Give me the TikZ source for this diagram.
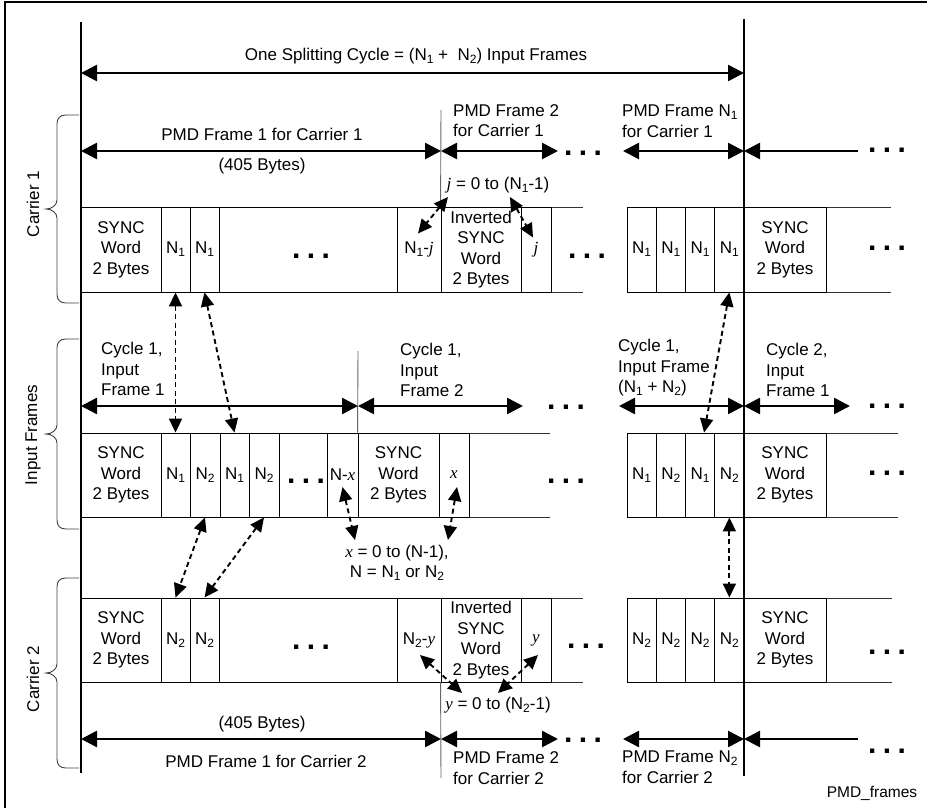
\documentclass[tikz,border=0pt]{standalone}
\usepackage{fontspec}
\setmainfont{Liberation Sans}
\newfontfamily\tmsfont{Liberation Serif}
\usetikzlibrary{arrows.meta,calc}
\newcommand\Nn[1]{N\raisebox{-3pt}{\fontsize{12}{12}\selectfont #1}}
\newcommand\vi[1]{{\tmsfont\itshape #1}}
\newcommand\tdots{.\hspace{6.4pt}.\hspace{6.4pt}.}
\newcommand\mybrace[3]{\draw[bracel] (79,#1) -- (66,#1) .. controls (60,#1) and (57,{#1+3}) .. (57,{#1+9}) -- (57,{#2-9}) .. controls (57,{#2-4}) and (52,#2) .. (46,#2) .. controls (52,#2) and (57,{#2+4}) .. (57,{#2+9}) -- (57,{#3-9}) .. controls (57,{#3-3}) and (60,#3) .. (66,#3) -- (79,#3);}
\begin{document}
\begin{tikzpicture}[x=1pt,y=-1pt,
  font=\fontsize{17}{20.5}\selectfont, inner sep=0pt,
  frcell/.style={draw, line width=0.9pt, inner sep=0pt, minimum width=#1, minimum height=85pt, align=center},
  frcellb/.style={frcell=#1, minimum height=84pt},
  rowline/.style={line width=0.9pt, black!80},
  vline/.style={line width=2.4pt},
  grayline/.style={line width=0.9pt, black!60},
  bigarr/.style={line width=2.6pt, {Triangle[length=16pt,width=16pt]}-{Triangle[length=16pt,width=16pt]}},
  lefttip/.style={line width=2.6pt, {Triangle[length=16pt,width=16pt]}-},
  dsh/.style={line width=1.9pt, dash pattern=on 5pt off 3.5pt, {Triangle[length=14pt,width=13pt]}-{Triangle[length=14pt,width=13pt]}},
  bracel/.style={line width=0.9pt, black!75},
  dotsn/.style={font=\fontsize{30}{30}\selectfont\bfseries, inner sep=0pt},
  ]
\useasboundingbox (0,0) rectangle (927,808);
% outer frame (top and left edges)
\draw[line width=1.2pt] (5,808) -- (5,2) -- (927,2);

% ---------- Carrier 1 row ----------
\draw[rowline] (81,207) -- (583,207) (81,292) -- (583,292) (627,207) -- (891,207) (627,292) -- (891,292);
\node[frcell=80pt] (a0) at (121,249.5) {SYNC\\Word\\2 Bytes};
\node[frcell=29pt] (a1) at (175.5,249.5) {\Nn1};
\node[frcell=29pt] (a2) at (204.5,249.5) {\Nn1};
\node[frcell=178pt] (a3) at (308,249.5) {};
\node[frcell=44pt] (a4) at (419,249.5) {\Nn1-\vi{j}};
\node[frcell=80pt] (a5) at (481,249.5) {Inverted\\SYNC\\Word\\2 Bytes};
\node[frcell=30pt] (a6) at (536,249.5) {\vi{j}};
\node[frcell=29.25pt] (b1) at (641.625,249.5) {\Nn1};
\node[frcell=29.25pt] (b2) at (670.875,249.5) {\Nn1};
\node[frcell=29.25pt] (b3) at (700.125,249.5) {\Nn1};
\node[frcell=29.25pt] (b4) at (729.375,249.5) {\Nn1};
\node[frcell=82pt] (b5) at (785,249.5) {SYNC\\Word\\2 Bytes};

% ---------- Input row ----------
\draw[rowline] (81,433) -- (550,433) (81,517) -- (550,517) (627,433) -- (898,433) (627,517) -- (898,517);
\node[frcellb=80pt] (c0) at (121,475) {SYNC\\Word\\2 Bytes};
\node[frcellb=29pt] (c1) at (175.5,475) {\Nn1};
\node[frcellb=30pt] (c2) at (205,475) {\Nn2};
\node[frcellb=29pt] (c3) at (234.5,475) {\Nn1};
\node[frcellb=30pt] (c4) at (264,475) {\Nn2};
\node[frcellb=48pt] (c5) at (303,475) {};
\node[frcellb=31pt] (c6) at (342.5,475) {N-\vi{x}};
\node[frcellb=81pt] (c7) at (398.5,475) {SYNC\\Word\\2 Bytes};
\node[frcellb=30pt] (c8) at (454,475) {\vi{x}};
\node[frcellb=29.25pt] (d1) at (641.625,475) {\Nn1};
\node[frcellb=29.25pt] (d2) at (670.875,475) {\Nn2};
\node[frcellb=29.25pt] (d3) at (700.125,475) {\Nn1};
\node[frcellb=29.25pt] (d4) at (729.375,475) {\Nn2};
\node[frcellb=82pt] (d5) at (785,475) {SYNC\\Word\\2 Bytes};

% ---------- Carrier 2 row ----------
\draw[rowline] (81,598) -- (583,598) (81,682) -- (583,682) (627,598) -- (892,598) (627,682) -- (892,682);
\node[frcellb=80pt] (e0) at (121,640) {SYNC\\Word\\2 Bytes};
\node[frcellb=29pt] (e1) at (175.5,640) {\Nn2};
\node[frcellb=29pt] (e2) at (204.5,640) {\Nn2};
\node[frcellb=178pt] (e3) at (308,640) {};
\node[frcellb=44pt] (e4) at (419,640) {\Nn2-\vi{y}};
\node[frcellb=80pt] (e5) at (481,640) {Inverted\\SYNC\\Word\\2 Bytes};
\node[frcellb=30pt] (e6) at (536,640) {\vi{y}};
\node[frcellb=29.25pt] (f1) at (641.625,640) {\Nn2};
\node[frcellb=29.25pt] (f2) at (670.875,640) {\Nn2};
\node[frcellb=29.25pt] (f3) at (700.125,640) {\Nn2};
\node[frcellb=29.25pt] (f4) at (729.375,640) {\Nn2};
\node[frcellb=82pt] (f5) at (785,640) {SYNC\\Word\\2 Bytes};

% ---------- thin gray frame separators ----------
\draw[grayline] (441,110) -- (a5.north west);
\draw[grayline] (358,351) -- (c7.north west);
\draw[grayline] (e5.south west) -- (441,778);

% ---------- thick vertical lines ----------
\coordinate (Ltop) at (81,22); \coordinate (Lbot) at (81,773);
\coordinate (Rtop) at (744,19); \coordinate (Rbot) at (744,776);
\draw[vline] (Ltop) -- (Lbot);
\draw[vline] (Rtop) -- (Rbot);

% ---------- braces and side labels ----------
\mybrace{115}{209}{303}
\mybrace{339}{434}{529}
\mybrace{578}{673}{768}
\node[rotate=90] (lc1) at (33,204) {Carrier 1};
\node[rotate=90] (lin) at (33,435) {Input Frames};
\node[rotate=90] (lc2) at (33,679) {Carrier 2};

% ---------- top cycle arrow ----------
\coordinate (t1) at (81,73); \coordinate (t2) at (744,73);
\draw[bigarr] (t1) -- (t2);
\node (ttop) at (416,56) {One Splitting Cycle = (\Nn1 +\ \ \Nn2) Input Frames};

% ---------- carrier 1 frame arrows ----------
\coordinate (p1) at (81,151); \coordinate (p2) at (441,151); \coordinate (p3) at (558,151);
\coordinate (p4) at (623,151); \coordinate (p5) at (744,151); \coordinate (p6) at (858,151);
\draw[bigarr] (p1) -- (p2);
\draw[bigarr] (p2) -- (p3);
\draw[bigarr] (p4) -- (p5);
\draw[lefttip] (p5) -- (p6);
\node (pm1) at (262,134) {PMD Frame 1 for Carrier 1};
\node (by1) at (262,166) {(405 Bytes)};
\node[align=left, anchor=west] (pm2) at (453,120.5) {PMD Frame 2\\for Carrier 1};
\node[align=left, anchor=west] (pmn) at (622,121) {PMD Frame \Nn1\\for Carrier 1};
\node (jl) at (498,185) {\vi{j} = 0 to (\Nn1-1)};

% ---------- input frame arrows ----------
\coordinate (q1) at (81,406); \coordinate (q2) at (358,406); \coordinate (q3) at (523,406);
\coordinate (q4) at (619,406); \coordinate (q5) at (744,406); \coordinate (q6) at (850,406);
\draw[bigarr] (q1) -- (q2);
\draw[bigarr] (q2) -- (q3);
\draw[bigarr] (q4) -- (q5);
\draw[bigarr] (q5) -- (q6);
\node[align=left, anchor=west] (cy1) at (101,369) {Cycle 1,\\Input\\Frame 1};
\node[align=left, anchor=west] (cy2) at (400,370) {Cycle 1,\\Input\\Frame 2};
\node[align=left, anchor=west] (cy3) at (618,368) {Cycle 1,\\Input Frame\\(\Nn1 + \Nn2)};
\node[align=left, anchor=west] (cy4) at (766,370) {Cycle 2,\\Input\\Frame 1};
\node[align=center] (xl) at (397,563) {\vi{x} = 0 to (N-1),\\N = \Nn1 or \Nn2};

% ---------- carrier 2 frame arrows ----------
\coordinate (r1) at (81,739); \coordinate (r2) at (441,739); \coordinate (r3) at (558,739);
\coordinate (r4) at (623,739); \coordinate (r5) at (744,739); \coordinate (r6) at (858,739);
\draw[bigarr] (r1) -- (r2);
\draw[bigarr] (r2) -- (r3);
\draw[bigarr] (r4) -- (r5);
\draw[lefttip] (r5) -- (r6);
\node (by2) at (262,724) {(405 Bytes)};
\node (pm3) at (266,761) {PMD Frame 1 for Carrier 2};
\node[align=left, anchor=west] (pm4) at (453,768) {PMD Frame 2\\for Carrier 2};
\node[align=left, anchor=west] (pm5) at (622,767) {PMD Frame \Nn2\\for Carrier 2};
\node (yl) at (498,705) {\vi{y} = 0 to (\Nn2-1)};

% ---------- dots ----------
\node[dotsn] (dt1) at (583,153) {\tdots};
\node[dotsn] (dt2) at (887,150) {\tdots};
\node[dotsn] (dt3) at (311,256) {\tdots};
\node[dotsn] (dt4) at (587,256) {\tdots};
\node[dotsn] (dt5) at (887,248) {\tdots};
\node[dotsn] (dt6) at (566,407) {\tdots};
\node[dotsn] (dt7) at (887,406) {\tdots};
\node[dotsn] (dt8) at (306,481) {\tdots};
\node[dotsn] (dt9) at (566,481) {\tdots};
\node[dotsn] (dt10) at (887,473) {\tdots};
\node[dotsn] (dt11) at (311,647) {\tdots};
\node[dotsn] (dt12) at (586,646) {\tdots};
\node[dotsn] (dt13) at (887,652) {\tdots};
\node[dotsn] (dt14) at (583,740) {\tdots};
\node[dotsn] (dt15) at (887,751) {\tdots};

% ---------- dashed mapping arrows ----------
\draw[dsh] (a1.south) -- (c1.north);
\draw[dsh] (a2.south) -- (c3.north);
\draw[dsh] (c2.south) -- (e1.north);
\draw[dsh] (c4.south) -- (e2.north);
\draw[dsh] (b4.south) -- ($(d3.north)+(4,0)$);
\draw[dsh] (d4.south) -- (f4.north);
\draw[dsh] ($(jl.center)+(-50,12)$) -- ($(a4.center)+(-1,-16)$);
\draw[dsh] ($(jl.center)+(12,12)$) -- ($(a6.center)+(-3,-12)$);
\draw[dsh] ($(c6.center)+(0,12)$) -- ($(xl.center)+(-42,-23)$);
\draw[dsh] ($(c8.center)+(3,12)$) -- ($(xl.center)+(51,-23)$);
\draw[dsh] ($(e4.center)+(1,15)$) -- ($(yl.center)+(-36,-12)$);
\draw[dsh] ($(e6.center)+(2,15)$) -- ($(yl.center)+(0,-12)$);

\node[font=\fontsize{15.5}{18}\selectfont] (tag) at (872,793) {PMD\_frames};
\end{tikzpicture}
\end{document}
